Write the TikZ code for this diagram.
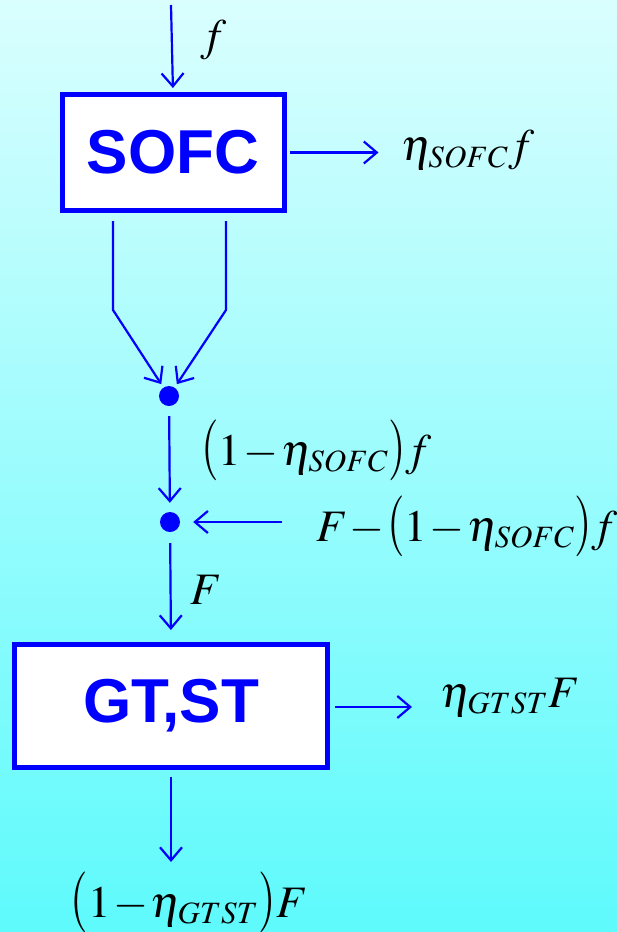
\documentclass[tikz,border=0pt]{standalone}
\usepackage{mathptmx}
\usepackage[no-math]{fontspec}
\newfontfamily\unitfont{Liberation Sans}
\usetikzlibrary{arrows.meta,calc}
\definecolor{flowBlue}{HTML}{0000FF}
\definecolor{skyTop}{HTML}{DAFEFE}
\definecolor{skyBottom}{HTML}{5EFAFC}
\DeclareMathSizes{45}{45}{31}{22}
\newcommand\tightmath{\medmuskip=1mu\relax}
\newcommand\tallopen{\mathopen{\scalebox{1}[1.35]{$($}}}
\newcommand\tallclose{\mathclose{\scalebox{1}[1.35]{$)$}}}

\begin{document}
\begin{tikzpicture}[
            x=1pt, y=-1pt,
            unitbox/.style={
                draw=flowBlue,
                fill=white,
                line width=5pt,
                inner sep=0pt,
                text=flowBlue,
                font=\unitfont\fontsize{62}{66}\selectfont\bfseries
            },
            junction/.style={
                circle,
                fill=flowBlue,
                inner sep=0pt,
                minimum size=20pt
            },
            flowarrow/.style={
                -{Straight Barb[length=13pt,width=22pt]},
                line width=2.2pt,
                draw=flowBlue
            },
            flowlabel/.style={
                inner sep=0pt,
                font=\fontsize{45}{48}\selectfont\tightmath
            }
        ]

        \shade[top color=skyTop, bottom color=skyBottom]
            (0,0) rectangle (617,932);
        \useasboundingbox (0,0) rectangle (617,932);

        % --- Fuel cell stage ---
        \node[unitbox, minimum width=222pt, minimum height=116pt]
            (sofc) at (173,152.5) {SOFC};

        \coordinate (fuelin) at (171,5);
        \draw[flowarrow, shorten >=4pt] (fuelin) -- (sofc.north);
        \node[flowlabel] (flabel) at (214,40) {$f$};

        \coordinate (sofcout) at ([xshift=92pt]sofc.east);
        \draw[flowarrow, shorten <=3pt] (sofc.east) -- (sofcout);
        \node[flowlabel, anchor=west] (sofcpower) at (401,150)
            {$\eta_{SOFC}f$};

        % --- Exhaust and mixing ---
        \node[junction] (mixa) at (169,396) {};
        \node[junction] (mixb) at (170,522) {};

        \coordinate (exleft) at ([xshift=-60pt,yshift=-8pt]sofc.south);
        \coordinate (exright) at ([xshift=53pt,yshift=-8pt]sofc.south);
        \draw[flowarrow, shorten >=4pt] (exleft) -- ++(0,89) -- (mixa);
        \draw[flowarrow, shorten >=4pt] (exright) -- ++(0,89) -- (mixa);

        \draw[flowarrow, shorten <=10pt, shorten >=9pt] (mixa) -- (mixb);
        \node[flowlabel, anchor=west] (exlabel) at (201,450)
            {$\tallopen 1-\eta_{SOFC}\tallclose f$};

        \coordinate (extrain) at (282,522);
        \draw[flowarrow, shorten >=13pt] (extrain) -- (mixb);
        \node[flowlabel, anchor=west] (extralabel) at (316,526)
            {$F-\tallopen 1-\eta_{SOFC}\tallclose f$};

        % --- Gas and steam turbines ---
        \node[unitbox, minimum width=313pt, minimum height=123pt]
            (gtst) at (171,706) {GT,ST};

        \draw[flowarrow, shorten <=11pt, shorten >=12pt] (mixb) -- (gtst.north);
        \node[flowlabel, anchor=west] (Flabel) at (190,590) {$F$};

        \coordinate (gtstout) at ([xshift=82pt,yshift=-1pt]gtst.east);
        \draw[flowarrow, shorten <=5pt] ([yshift=-1pt]gtst.east) -- (gtstout);
        \node[flowlabel, anchor=west] (gtstpower) at (440,697)
            {$\eta_{GTST}F$};

        \coordinate (gtstloss) at (171,862);
        \draw[flowarrow, shorten <=7pt] (gtst.south) -- (gtstloss);
        \node[flowlabel] (losslabel) at (189,902)
            {$\tallopen 1-\eta_{GTST}\tallclose F$};

        \end{tikzpicture}
\end{document}
